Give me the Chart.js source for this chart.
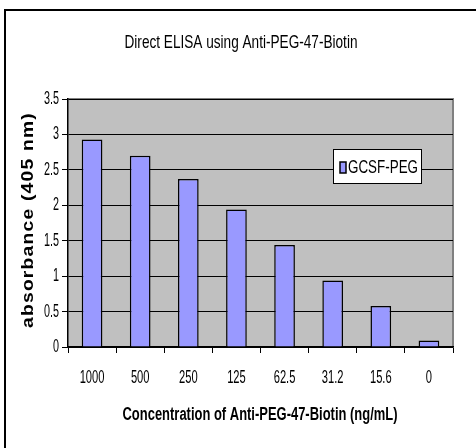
<!DOCTYPE html>
<html>
<head>
<meta charset="utf-8">
<script src="https://cdn.jsdelivr.net/npm/chart.js@4.4.1/dist/chart.umd.min.js"></script>
<style>
  html, body { margin: 0; padding: 0; background: #fff; }
  #wrap { width: 476px; height: 448px; position: relative; }
</style>
</head>
<body>
<div id="wrap"><canvas id="bar-chart"></canvas></div>
<script>
var concentrations = ["1000", "500", "250", "125", "62.5", "31.2", "15.6", "0"];
var absorbance = [2.93, 2.70, 2.37, 1.94, 1.44, 0.94, 0.58, 0.09];
var yTicks = [0, 0.5, 1, 1.5, 2, 2.5, 3, 3.5];
var seriesName = "GCSF-PEG";
var chartTitle = "Direct ELISA using Anti-PEG-47-Biotin";
var xTitle = "Concentration of Anti-PEG-47-Biotin (ng/mL)";
var yTitle = "absorbance (405 nm)";

var fam = "'Liberation Sans', Arial, sans-serif";

// the original uses Arial Narrow, so squeeze the text horizontally
function squeezeText(ctx, text, x, y, sx, align){
    ctx.save();
    ctx.translate(x, y);
    ctx.scale(sx, 1);
    ctx.textAlign = align || 'center';
    ctx.fillText(text, 0, 0);
    ctx.restore();
}
function fitText(ctx, text, x, y, width){
    var w = ctx.measureText(text).width;
    squeezeText(ctx, text, x, y, width / w, 'center');
}

var decor = {
    id: 'decor',
    beforeDraw: function(chart){
        var ctx = chart.ctx, a = chart.chartArea;
        ctx.save();
        ctx.fillStyle = '#ffffff';
        ctx.fillRect(0, 0, chart.width, chart.height);
        ctx.strokeStyle = '#000';
        ctx.lineWidth = 2;
        ctx.beginPath();
        ctx.moveTo(5, 448);
        ctx.lineTo(5, 10);
        ctx.lineTo(476, 10);
        ctx.stroke();
        ctx.fillStyle = '#c0c0c0';
        ctx.fillRect(a.left, a.top, a.right - a.left, a.bottom - a.top);
        ctx.strokeStyle = '#808080';
        ctx.lineWidth = 2;
        ctx.beginPath();
        ctx.moveTo(a.left, a.top);
        ctx.lineTo(a.right, a.top);
        ctx.lineTo(a.right, a.bottom);
        ctx.stroke();
        ctx.restore();
    },
    afterDraw: function(chart){
        var ctx = chart.ctx, a = chart.chartArea;
        var xs = chart.scales.x, ys = chart.scales.y;
        ctx.save();
        ctx.fillStyle = '#000';
        ctx.textBaseline = 'middle';

        // tick labels from the scales
        ctx.font = '18px ' + fam;
        concentrations.forEach(function(lbl, i){
            squeezeText(ctx, lbl, xs.getPixelForValue(i), 378, 0.62, 'center');
        });
        yTicks.forEach(function(v){
            squeezeText(ctx, String(v), 59, ys.getPixelForValue(v), 0.6, 'right');
        });

        ctx.font = '19px ' + fam;
        fitText(ctx, chartTitle, 241, 43, 233);

        ctx.font = 'bold 18px ' + fam;
        fitText(ctx, xTitle, 260, 415, 275);

        ctx.save();
        ctx.translate(29, 220);
        ctx.rotate(-Math.PI / 2);
        ctx.font = 'bold 16px ' + fam;
        if ('letterSpacing' in ctx) ctx.letterSpacing = '1px';
        fitText(ctx, yTitle, 0, 0, 216);
        ctx.restore();

        // legend box
        var lx = 333, ly = 149, lw = 88, lh = 34;
        ctx.fillStyle = '#fff';
        ctx.fillRect(lx, ly, lw, lh);
        ctx.strokeStyle = '#000';
        ctx.lineWidth = 1;
        ctx.strokeRect(lx + 0.5, ly + 0.5, lw, lh);
        var ds = chart.data.datasets[0];
        ctx.fillStyle = ds.backgroundColor;
        ctx.fillRect(340, 162, 6, 11);
        ctx.lineWidth = 1.5;
        ctx.strokeRect(340, 162, 6, 11);
        ctx.fillStyle = '#000';
        ctx.font = '19px ' + fam;
        ctx.save();
        ctx.translate(348, 168);
        var w = ctx.measureText(ds.label).width;
        ctx.scale(70 / w, 1);
        ctx.textAlign = 'left';
        ctx.fillText(ds.label, 0, 0);
        ctx.restore();
        ctx.restore();
    }
};

var ctx = document.getElementById("bar-chart").getContext("2d");
var myChart = new Chart(ctx, {
    type: 'bar',
    data: {
        labels: concentrations,
        datasets: [{
            label: seriesName,
            data: absorbance,
            backgroundColor: '#9999ff',
            borderColor: '#000000',
            borderWidth: 1.5,
            categoryPercentage: 1.0,
            barPercentage: 0.43
        }]
    },
    options: {
        responsive: true,
        maintainAspectRatio: false,
        animation: false,
        layout: { padding: { top: 99, right: 23, left: 0, bottom: 0 } },
        plugins: {
            legend: { display: false },
            title: { display: false },
            tooltip: { enabled: false }
        },
        scales: {
            x: {
                afterFit: function(s){ s.height = 101; },
                grid: { offset: true, drawOnChartArea: false, color: '#000', tickLength: 6 },
                border: { color: '#000', width: 1.5 },
                ticks: { display: false }
            },
            y: {
                min: 0,
                max: 3.5,
                afterFit: function(s){ s.width = 68; },
                grid: { color: '#000', lineWidth: 1, tickLength: 6 },
                border: { color: '#000', width: 1.5 },
                ticks: { display: false, stepSize: 0.5 }
            }
        }
    },
    plugins: [decor]
});
</script>
</body>
</html>
